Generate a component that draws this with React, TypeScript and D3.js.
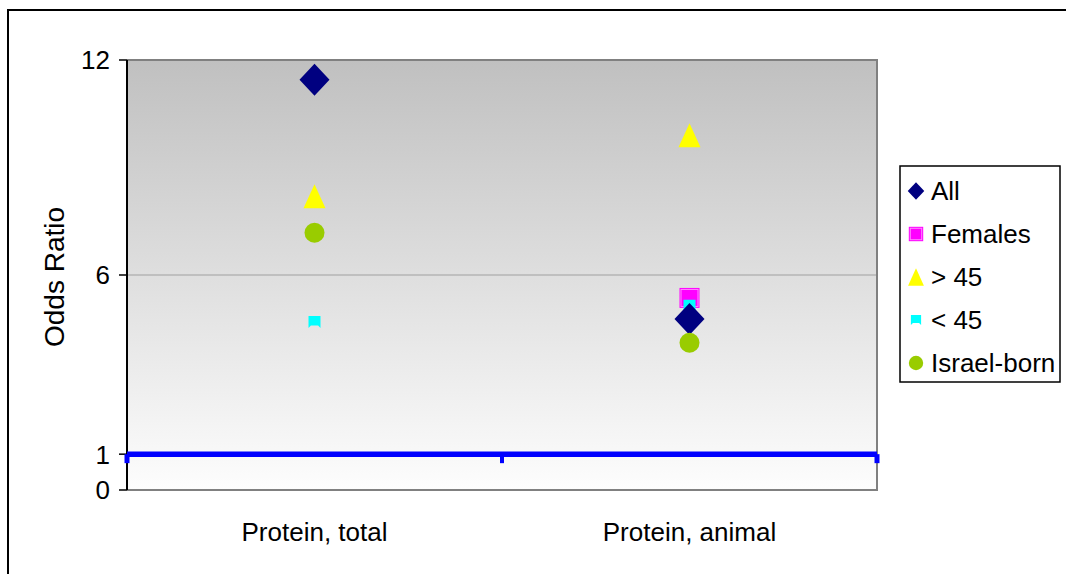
import React from "react";
import * as d3 from "d3";

const categories = ["Protein, total", "Protein, animal"];
const seriesNames = ["All", "Females", "> 45", "< 45", "Israel-born"];
const allValues = [11.45, 4.77];
const femalesValues = [null, 5.36];
const over45Values = [8.2, 9.9];
const under45Values = [4.69, 5.14];
const israelValues = [7.18, 4.11];
const yTicks = [0, 1, 6, 12];
const refValue = 1;

const colors: Record<string, string> = {
  "All": "#000080",
  "Females": "#ff00ff",
  "> 45": "#ffff00",
  "< 45": "#00ffff",
  "Israel-born": "#99cc00",
};

const W = 1066, H = 574;
const plot = { left: 127, right: 877, top: 60, bottom: 490 };
const FONT = "'Liberation Sans', Arial, sans-serif";

function marker(name: string, x: number, y: number, s: number, key: string) {
  const c = colors[name];
  if (name === "All") {
    const hw = 15 * s, hh = 16 * s;
    return <path key={key} d={`M${x},${y - hh}L${x + hw},${y}L${x},${y + hh}L${x - hw},${y}Z`} fill={c} />;
  }
  if (name === "Females") {
    const h = 10 * s;
    return (
      <g key={key}>
        <rect x={x - h} y={y - h} width={2 * h} height={2 * h} fill={c} />
        <rect x={x - h + 1.5} y={y - h + 1.5} width={2 * h - 3} height={2 * h - 3} fill="none" stroke="#ff88ff" strokeWidth={1} />
      </g>
    );
  }
  if (name === "> 45") {
    const hw = 11 * s, hh = 12 * s;
    return <path key={key} d={`M${x},${y - hh}L${x + hw},${y + hh}L${x - hw},${y + hh}Z`} fill={c} />;
  }
  if (name === "< 45") {
    const h = 6 * s;
    return <path key={key} d={`M${x - h},${y - h}L${x + h},${y - h}L${x + h},${y + h}L${x + h * 0.6},${y + h * 0.6}L${x - h * 0.6},${y + h * 0.6}L${x - h},${y + h}Z`} fill={c} />;
  }
  return <circle key={key} cx={x} cy={y} r={10 * s} fill={c} />;
}

export default function App() {
  const x = d3.scalePoint<string>().domain(categories).range([plot.left, plot.right]).padding(0.5);
  const y = d3.scaleLinear().domain([0, 12]).range([plot.bottom, plot.top]);
  const seriesData: Record<string, (number | null)[]> = {
    "All": allValues,
    "Females": femalesValues,
    "> 45": over45Values,
    "< 45": under45Values,
    "Israel-born": israelValues,
  };
  const drawOrder = ["Females", "< 45", "All", "> 45", "Israel-born"];
  const yRef = y(refValue);
  const catEdges = [plot.left, (plot.left + plot.right) / 2, plot.right];

  return (
    <svg width={W} height={H} style={{ display: "block", position: "absolute", left: 0, top: 0 }} fontFamily={FONT}>
      <defs>
        <linearGradient id="bg" x1="0" y1="0" x2="0" y2="1">
          <stop offset="0%" stopColor="#c0c0c0" />
          <stop offset="100%" stopColor="#fdfdfd" />
        </linearGradient>
      </defs>
      <rect x={0} y={0} width={W} height={H} fill="#fff" />
      <rect x={8} y={10} width={W + 10} height={H + 10} fill="none" stroke="#000" strokeWidth={2} />
      <rect x={plot.left} y={plot.top} width={plot.right - plot.left} height={plot.bottom - plot.top} fill="url(#bg)" />
      <line x1={plot.left} x2={plot.right} y1={y(6)} y2={y(6)} stroke="#b4b4b4" strokeWidth={1.5} />
      <path d={`M${plot.left},${plot.top}H${plot.right}V${plot.bottom}H${plot.left}`} fill="none" stroke="#808080" strokeWidth={2} />
      <line x1={plot.left} x2={plot.left} y1={plot.top} y2={plot.bottom} stroke="#000" strokeWidth={2} />
      {yTicks.map((t) => (
        <g key={t}>
          <line x1={plot.left - 8} x2={plot.left} y1={y(t)} y2={y(t)} stroke="#000" strokeWidth={1.5} />
          <text x={110} y={y(t)} dy="0.36em" textAnchor="end" fontSize={26} fill="#000">{t}</text>
        </g>
      ))}
      <line x1={plot.left} x2={plot.right} y1={yRef} y2={yRef} stroke="#0000ff" strokeWidth={5.5} />
      {catEdges.map((cx, i) => (
        <line key={i} x1={cx} x2={cx} y1={yRef} y2={yRef + 9} stroke="#0000ff" strokeWidth={i === 1 ? 4 : 5} />
      ))}
      {categories.map((c) => (
        <text key={c} x={x(c)} y={541} textAnchor="middle" fontSize={26} fill="#000">{c}</text>
      ))}
      <text transform={`translate(64,277) rotate(-90)`} textAnchor="middle" fontSize={28} fill="#000">Odds Ratio</text>
      {drawOrder.map((name) =>
        seriesData[name].map((v, i) => (v == null ? null : marker(name, x(categories[i])!, y(v), 1, `${name}-${i}`)))
      )}
      <rect x={900} y={166} width={160} height={216} fill="#fff" stroke="#000" strokeWidth={1.5} />
      {seriesNames.map((name, i) => {
        const ly = 191 + i * 43;
        return (
          <g key={name}>
            {marker(name, 916, ly, name === "All" ? 0.55 : name === "< 45" ? 0.85 : 0.72, `lg-${name}`)}
            <text x={931} y={ly} dy="0.36em" fontSize={26} fill="#000">{name}</text>
          </g>
        );
      })}
    </svg>
  );
}
